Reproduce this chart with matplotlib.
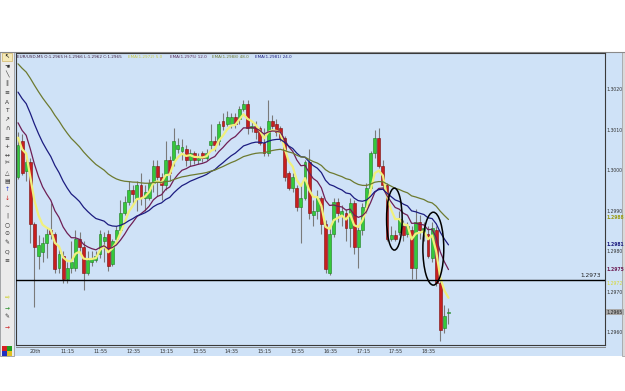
import matplotlib
matplotlib.use("Agg")
import matplotlib.pyplot as plt
from matplotlib.patches import Rectangle, Ellipse
import numpy as np

W, H = 625, 391

# ---------------- data (EUR/USD M5) ----------------
opens = [1.29983, 1.30074, 1.30000, 1.30020, 1.29869, 1.29790, 1.29798, 1.29820, 1.29852, 1.29842,
         1.29760, 1.29790, 1.29731, 1.29760, 1.29760, 1.29830, 1.29810, 1.29748, 1.29773, 1.29780,
         1.29795, 1.29827, 1.29842, 1.29770, 1.29832, 1.29852, 1.29894, 1.29921, 1.29951, 1.29933,
         1.29963, 1.29933, 1.29933, 1.29970, 1.30012, 1.29983, 1.29963, 1.30025, 1.30025, 1.30054,
         1.30049, 1.30054, 1.30025, 1.30042, 1.30025, 1.30042, 1.30030, 1.30062, 1.30074, 1.30074,
         1.30123, 1.30116, 1.30116, 1.30131, 1.30128, 1.30153, 1.30165, 1.30104, 1.30111, 1.30104,
         1.30069, 1.30042, 1.30123, 1.30116, 1.30104, 1.30081, 1.29993, 1.29958, 1.29958, 1.29909,
         1.29933, 1.30020, 1.29889, 1.29901, 1.29933, 1.29869, 1.29748, 1.29844, 1.29921, 1.29889,
         1.29894, 1.29859, 1.29919, 1.29810, 1.29852, 1.29909, 1.29958, 1.30042, 1.30081, 1.30012,
         1.29963, 1.29832, 1.29840, 1.29847, 1.29864, 1.29844, 1.29852, 1.29760, 1.29872, 1.29847,
         1.29844, 1.29783, 1.29852, 1.29721, 1.29610, 1.29648]
highs = [1.30094, 1.30091, 1.30035, 1.30030, 1.29872, 1.29840, 1.29837, 1.29857, 1.29919, 1.29847,
         1.29807, 1.29802, 1.29773, 1.29827, 1.29852, 1.29847, 1.29827, 1.29802, 1.29802, 1.29802,
         1.29852, 1.29847, 1.29852, 1.29832, 1.29862, 1.29926, 1.29938, 1.29975, 1.29963, 1.29975,
         1.29993, 1.29963, 1.29980, 1.30025, 1.30025, 1.29995, 1.30074, 1.30037, 1.30104, 1.30081,
         1.30079, 1.30062, 1.30054, 1.30049, 1.30044, 1.30049, 1.30054, 1.30116, 1.30086, 1.30123,
         1.30143, 1.30148, 1.30143, 1.30143, 1.30160, 1.30173, 1.30173, 1.30123, 1.30123, 1.30111,
         1.30104, 1.30173, 1.30136, 1.30128, 1.30111, 1.30086, 1.30000, 1.29995, 1.29963, 1.29963,
         1.30025, 1.30054, 1.29926, 1.29951, 1.29938, 1.29877, 1.29857, 1.29931, 1.29931, 1.29914,
         1.29906, 1.29931, 1.29926, 1.29864, 1.29919, 1.29968, 1.30049, 1.30099, 1.30104, 1.30025,
         1.29970, 1.29864, 1.29852, 1.29901, 1.29877, 1.29872, 1.29864, 1.29906, 1.29889, 1.29872,
         1.29864, 1.29872, 1.29862, 1.29728, 1.29667, 1.29660]
lows = [1.29980, 1.29988, 1.29975, 1.29822, 1.29662, 1.29758, 1.29773, 1.29783, 1.29832, 1.29748,
        1.29748, 1.29723, 1.29723, 1.29748, 1.29753, 1.29798, 1.29704, 1.29741, 1.29763, 1.29773,
        1.29783, 1.29773, 1.29753, 1.29763, 1.29827, 1.29847, 1.29889, 1.29914, 1.29914, 1.29901,
        1.29914, 1.29901, 1.29926, 1.29946, 1.29938, 1.29926, 1.29951, 1.29975, 1.30012, 1.30044,
        1.30025, 1.30012, 1.30012, 1.30017, 1.30017, 1.30020, 1.30025, 1.30054, 1.30049, 1.30062,
        1.30099, 1.30109, 1.30104, 1.30104, 1.30114, 1.30148, 1.30091, 1.30094, 1.30079, 1.30062,
        1.30037, 1.30037, 1.30099, 1.30086, 1.30074, 1.29975, 1.29951, 1.29946, 1.29901, 1.29822,
        1.29926, 1.29881, 1.29864, 1.29881, 1.29844, 1.29746, 1.29741, 1.29837, 1.29872, 1.29864,
        1.29827, 1.29810, 1.29795, 1.29760, 1.29840, 1.29896, 1.29951, 1.30030, 1.30005, 1.29956,
        1.29827, 1.29825, 1.29825, 1.29840, 1.29827, 1.29837, 1.29733, 1.29733, 1.29832, 1.29827,
        1.29783, 1.29773, 1.29714, 1.29580, 1.29600, 1.29620]
closes = [1.30062, 1.29995, 1.30020, 1.29869, 1.29810, 1.29815, 1.29820, 1.29844, 1.29842, 1.29758,
          1.29795, 1.29731, 1.29760, 1.29773, 1.29832, 1.29810, 1.29748, 1.29778, 1.29783, 1.29788,
          1.29842, 1.29837, 1.29765, 1.29827, 1.29852, 1.29894, 1.29921, 1.29951, 1.29943, 1.29963,
          1.29933, 1.29946, 1.29970, 1.30012, 1.29983, 1.29963, 1.30025, 1.29993, 1.30074, 1.30062,
          1.30059, 1.30025, 1.30042, 1.30025, 1.30032, 1.30030, 1.30042, 1.30074, 1.30062, 1.30116,
          1.30111, 1.30131, 1.30131, 1.30116, 1.30153, 1.30165, 1.30104, 1.30111, 1.30094, 1.30069,
          1.30042, 1.30123, 1.30111, 1.30094, 1.30081, 1.29983, 1.29958, 1.29983, 1.29909, 1.29933,
          1.30020, 1.29894, 1.29901, 1.29933, 1.29869, 1.29758, 1.29844, 1.29921, 1.29894, 1.29901,
          1.29859, 1.29919, 1.29810, 1.29852, 1.29909, 1.29958, 1.30042, 1.30081, 1.30012, 1.29963,
          1.29832, 1.29840, 1.29832, 1.29881, 1.29840, 1.29862, 1.29760, 1.29872, 1.29852, 1.29857,
          1.29790, 1.29859, 1.29721, 1.29605, 1.29640, 1.29650]

time_labels = ["20th", "11:15", "11:55", "12:35", "13:15", "13:55", "14:35",
               "15:15", "15:55", "16:35", "17:15", "17:55", "18:35"]
time_label_bars = [4, 12, 20, 28, 36, 44, 52, 60, 68, 76, 84, 92, 100]

price_ticks = [1.3020, 1.3010, 1.3000, 1.2990, 1.2980, 1.2970, 1.2960]
level_price = 1.2973

ema_periods = [5, 12, 24, 48]
ema_start = [1.30091, 1.30128, 1.30205, 1.30272]   # indicator values at left edge
ema_colors = ["#f0f07c", "#6e1f55", "#1c1c80", "#6d7a30"]
ema_widths = [1.6, 0.9, 0.9, 0.9]
ema_names = ["EMA(1.2972) 5.0", "EMA(1.2975) 12.0", "EMA(1.2988) 48.0", "EMA(1.2981) 24.0"]

# marked zones (bar index, price)
zone_centers = [(91.8, 1.29880), (101.3, 1.29807)]
zone_sizes = [(3.8, 0.00153), (5.1, 0.00180)]

# ---------------- figure ----------------
def fx(px):
    return px / W

def fy(py):
    return 1 - py / H

fig = plt.figure(figsize=(W / 100, H / 100), dpi=100, facecolor="white")

BG = "#cfe2f7"
# window background
fig.patches.append(Rectangle((fx(0), fy(356)), fx(625), (356 - 52) / H,
                             transform=fig.transFigure, facecolor=BG, edgecolor="none", zorder=-10))
# toolbar
fig.patches.append(Rectangle((fx(0), fy(356)), fx(14), (356 - 52) / H,
                             transform=fig.transFigure, facecolor="#ebebeb", edgecolor="#9a9a9a",
                             lw=0.6, zorder=-5))
# top border
fig.add_artist(plt.Line2D([0, 1], [fy(52), fy(52)], transform=fig.transFigure, color="#8a8a8a",
                          lw=0.8, zorder=-4))
# right border
fig.patches.append(Rectangle((fx(621.5), fy(356)), fx(3.5), (356 - 52) / H,
                             transform=fig.transFigure, facecolor="#d9d9d9", edgecolor="#9a9a9a",
                             lw=0.5, zorder=-5))
# selected-tool highlight
fig.patches.append(Rectangle((fx(2), fy(61)), fx(10), 8 / H, transform=fig.transFigure,
                             facecolor="#f5e9b8", edgecolor="#c9a94a", lw=0.4, zorder=-3))

left_px, right_px, top_px, bot_px = 15.5, 605, 53, 345
ax = fig.add_axes([fx(left_px), fy(bot_px), (right_px - left_px) / W, (bot_px - top_px) / H])
ax.set_zorder(2)
ax.set_facecolor(BG)

x0_px, step_px = 18.0, 4.1
ax.set_xlim((left_px - x0_px) / step_px, (right_px - x0_px) / step_px)
ref_y, ref_p, px_per_unit = 292.0, 1.2970, 40500.0
ax.set_ylim(ref_p - (bot_px - ref_y) / px_per_unit, ref_p + (ref_y - top_px) / px_per_unit)
ax.set_xticks([])
ax.set_yticks([])
for s in ax.spines.values():
    s.set_color("#3a3a3a")
    s.set_linewidth(0.8)

o = np.array(opens); h = np.array(highs); l = np.array(lows); c = np.array(closes)
x = np.arange(len(o))
up = c >= o

ax.vlines(x, l, h, color="#7a7a7a", lw=0.8, zorder=2)
body_lo = np.minimum(o, c)
body_h = np.maximum(np.abs(c - o), 0.000025)
ax.bar(x[up], body_h[up], bottom=body_lo[up], width=0.72, color="#35c93a",
       edgecolor="#1e7d22", lw=0.4, zorder=3)
ax.bar(x[~up], body_h[~up], bottom=body_lo[~up], width=0.72, color="#c81e1e",
       edgecolor="#7a0d0d", lw=0.4, zorder=3)

# EMAs
for per, start, col, lw in zip(ema_periods, ema_start, ema_colors, ema_widths):
    a = 2.0 / (per + 1)
    vals = []
    prev = start
    for cl in c:
        prev = prev + a * (cl - prev)
        vals.append(prev)
    ax.plot(x, vals, color=col, lw=lw, zorder=4, solid_capstyle="round")

# horizontal level
ax.axhline(level_price, color="black", lw=1.0, zorder=5)
ax.text(0.993, level_price + 0.00004, f"{level_price:.4f}", transform=ax.get_yaxis_transform(),
        ha="right", va="bottom", fontsize=4.2, color="#222222")

# ellipses
for (cx, cy), (ew, eh) in zip(zone_centers, zone_sizes):
    ax.add_patch(Ellipse((cx, cy), ew, eh, fill=False, edgecolor="black", lw=1.1, zorder=6))

# right price scale
yt = ax.get_yaxis_transform()
FS = 3.3
for p in price_ticks:
    ax.text(1.003, p, f"{p:.4f}", transform=yt, ha="left", va="center", fontsize=FS,
            color="#333333", clip_on=False)
ax.text(1.003, 1.29885, "1.2988", transform=yt, ha="left", va="center", fontsize=FS,
        color="#9a9a10", fontweight="bold", clip_on=False)
ax.text(1.003, 1.29818, "1.2981", transform=yt, ha="left", va="center", fontsize=FS,
        color="#1c1c80", fontweight="bold", clip_on=False)
ax.text(1.003, 1.29755, "1.2975", transform=yt, ha="left", va="center", fontsize=FS,
        color="#6e1f55", fontweight="bold", clip_on=False)
ax.text(1.003, 1.29722, "1.2972", transform=yt, ha="left", va="center", fontsize=FS,
        color="#d8d830", clip_on=False)
ax.text(1.003, 1.29650, "1.2965", transform=yt, ha="left", va="center", fontsize=FS,
        color="#222222", clip_on=False,
        bbox=dict(boxstyle="square,pad=0.12", facecolor="#a9a9a9", edgecolor="none"))

# time axis
ax.plot([0, 1], [-0.007, -0.007], transform=ax.transAxes, color="#7a7a7a", lw=0.6, clip_on=False)
for lab, b in zip(time_labels, time_label_bars):
    ax.text(b + 0.2, -0.014, lab, transform=ax.get_xaxis_transform(), ha="center", va="top",
            fontsize=3.5, color="#333333", clip_on=False)

# header
hx = [17, 128, 170, 212, 255]
htexts = ["EUR/USD,M5 O:1.2965 H:1.2966 L:1.2962 C:1.2965"] + ema_names
hcols = ["#402040", "#c8c840", "#5a2a5a", "#6d7a30", "#1c1c80"]
for px_, t, col in zip(hx, htexts, hcols):
    fig.text(fx(px_), fy(58.5), t, fontsize=3.0, color=col, ha="left", va="baseline", zorder=5)

# toolbar icons
icons = [("\u2196", "#000000"), ("\u261a", "#333333"), ("\u2572", "#222222"), ("\u2225", "#222222"),
         ("\u2261", "#333333"), ("A", "#333333"), ("T", "#333333"), ("\u2197", "#333333"),
         ("\u2229", "#333333"), ("\u2261", "#333333"), ("+", "#333333"), ("\u2194", "#333333"),
         ("\u2702", "#333333"), ("\u25b3", "#333333"), ("\u25a4", "#333333"), ("\u2191", "#1a3acc"),
         ("\u2193", "#cc1a1a"), ("\u223c", "#333333"), ("|", "#333333"), ("\u25cb", "#333333"),
         ("\u2299", "#333333"), ("\u270e", "#333333"), ("Q", "#333333"), ("\u2261", "#333333"),
         ("\u21e8", "#c8c800"), ("\u2192", "#1a8a1a"), ("\u270e", "#333333"), ("\u2192", "#cc1a1a")]
icon_y = [57, 66, 75, 83, 92, 102, 110, 120, 128, 138, 147, 155, 163, 173, 182, 190, 198, 207,
          215, 225, 233, 243, 252, 260, 298, 308, 317, 327]
for (g, col), yy in zip(icons, icon_y):
    fig.text(fx(7), fy(yy), g, fontsize=4.2, color=col, ha="center", va="center",
             family=["DejaVu Sans", "Noto Sans CJK SC"], zorder=5)

# windows-style colour squares
for (sx, sy, col) in [(2, 346, "#d42020"), (7, 346, "#20a020"), (2, 351, "#2030c0"), (7, 351, "#e0c020")]:
    fig.patches.append(Rectangle((fx(sx), fy(sy + 4.5)), fx(4.5), 4.5 / H,
                                 transform=fig.transFigure, facecolor=col, edgecolor="none", zorder=3))

fig.savefig("out.png", dpi=100, facecolor="white")
